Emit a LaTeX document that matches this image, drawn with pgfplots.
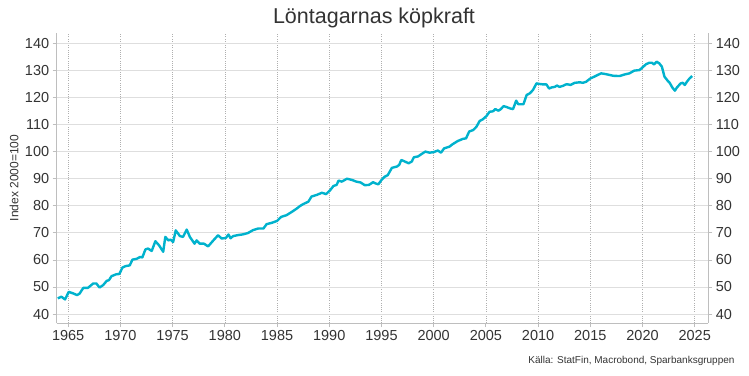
\documentclass[border=0pt]{standalone}
\usepackage{fontspec}
\setmainfont{Liberation Sans}
\usepackage{pgfplots}
\pgfplotsset{compat=1.18}
\definecolor{linec}{RGB}{0,178,205}
\definecolor{txt}{RGB}{51,51,51}
\definecolor{gridc}{RGB}{222,222,222}
\definecolor{axc}{RGB}{190,190,190}
\definecolor{vgrid}{RGB}{175,175,175}
\begin{document}
\begin{tikzpicture}[x=1pt,y=1pt]
\path[use as bounding box] (-56.7,-52) rectangle (692.3,323);
\pgfplotsset{common/.style={scale only axis, width=651.6pt, height=290pt,
  xmin=1963.9, xmax=2026.3, ymin=36.7, ymax=143.8, at={(0,0)}, anchor=south west,
  /pgf/number format/assume math mode=true, /pgf/number format/1000 sep={},
  tick label style={font=\fontsize{14.5}{16}\selectfont, text=txt},
  ytick={40,50,...,140}, xtick={1965,1970,...,2025},
  tick align=outside, major tick length=4pt,
  tick style={axc, line width=0.8pt}, axis line style={axc, line width=0.8pt, -}}}
\begin{axis}[common, axis x line*=bottom, axis y line*=left,
  xmajorgrids, ymajorgrids,
  x grid style={vgrid, line width=0.6pt, dash pattern=on 0.6pt off 1.6pt},
  y grid style={gridc, line width=0.8pt}]
\addplot[linec, line width=2.4pt, line join=round] coordinates {
(1964.0,45.8) (1964.35,46.4) (1964.7,45.4) (1965.05,48.2) (1965.5,47.6) (1965.85,47.0)
(1966.1,47.6) (1966.45,49.7) (1966.9,49.7) (1967.4,51.3) (1967.7,51.3) (1968.0,49.8)
(1968.35,50.7) (1968.7,52.3) (1968.9,52.5) (1969.15,54.0) (1969.6,54.7) (1969.9,54.8)
(1970.2,57.2) (1970.5,57.7) (1970.9,58.0) (1971.15,60.1) (1971.55,60.4) (1971.9,61.1)
(1972.1,60.9) (1972.4,63.9) (1972.65,64.2) (1973.0,63.3) (1973.35,66.9) (1973.7,65.4)
(1974.1,63.0) (1974.3,68.5) (1974.6,67.2) (1974.8,67.5) (1975.05,66.6) (1975.3,70.9)
(1975.7,68.8) (1976.0,68.5) (1976.35,71.2) (1976.65,68.5) (1977.1,66.0) (1977.3,67.2)
(1977.6,66.0) (1978.0,66.0) (1978.4,65.0) (1978.9,67.2) (1979.35,69.1) (1979.7,67.9)
(1980.1,68.1) (1980.35,69.4) (1980.55,68.0) (1980.8,68.8) (1981.3,69.2) (1981.7,69.4)
(1982.2,69.9) (1982.7,71.0) (1983.2,71.6) (1983.7,71.6) (1984.0,73.2) (1984.5,73.7)
(1985.0,74.4) (1985.4,75.9) (1985.9,76.5) (1986.4,77.7) (1986.9,79.0) (1987.2,79.9)
(1987.5,80.6) (1988.0,81.5) (1988.3,83.4) (1988.8,84.0) (1989.3,84.8) (1989.7,84.3)
(1990.1,85.8) (1990.4,87.3) (1990.7,87.7) (1990.9,89.3) (1991.2,88.9) (1991.7,90.0)
(1992.2,89.5) (1992.6,88.9) (1993.0,88.6) (1993.4,87.6) (1993.8,87.7) (1994.2,88.7)
(1994.4,88.3) (1994.7,87.9) (1995.0,89.5) (1995.3,90.7) (1995.6,91.3) (1996.0,94.0)
(1996.5,94.5) (1996.7,95.1) (1996.9,96.9) (1997.2,96.4) (1997.6,95.7) (1997.9,96.3)
(1998.1,97.9) (1998.5,98.2) (1998.8,99.0) (1999.2,100.0) (1999.6,99.6) (2000.0,99.8)
(2000.4,100.4) (2000.7,99.6) (2001.0,101.2) (2001.5,101.8) (2001.8,102.7) (2002.3,103.9)
(2002.8,104.7) (2003.1,104.9) (2003.4,107.4) (2003.8,108.0) (2004.1,109.2) (2004.4,111.3)
(2004.7,111.9) (2005.05,113.1) (2005.35,114.7) (2005.7,114.9) (2005.9,115.7) (2006.2,115.1)
(2006.4,115.6) (2006.7,116.8) (2006.95,116.5) (2007.35,115.9) (2007.6,115.7) (2007.9,118.8)
(2008.1,117.5) (2008.4,117.5) (2008.6,117.5) (2008.9,120.9) (2009.2,121.5) (2009.5,122.7)
(2009.85,125.2) (2010.1,125.0) (2010.5,124.8) (2010.8,124.8) (2011.05,123.3) (2011.3,123.7)
(2011.6,123.9) (2011.8,124.4) (2012.05,123.9) (2012.4,124.3) (2012.65,124.8) (2012.9,124.8)
(2013.1,124.6) (2013.5,125.4) (2014.0,125.6) (2014.3,125.4) (2014.6,125.8) (2015.0,127.0)
(2015.4,127.7) (2015.7,128.3) (2016.05,128.9) (2016.5,128.6) (2017.2,128.0) (2017.8,127.9)
(2018.3,128.5) (2018.75,128.9) (2019.2,129.9) (2019.7,130.1) (2020.0,131.1) (2020.35,132.3)
(2020.65,132.8) (2020.9,132.8) (2021.1,132.2) (2021.35,133.2) (2021.6,132.6) (2021.85,131.4)
(2022.1,127.7) (2022.4,126.2) (2022.6,125.4) (2022.85,123.7) (2023.1,122.5) (2023.3,123.7)
(2023.65,125.2) (2023.85,125.4) (2024.05,124.6) (2024.25,125.8) (2024.5,127.0) (2024.75,127.9)
};
\end{axis}
\begin{axis}[common, axis y line*=right, axis x line=none]
\end{axis}
\node[font=\fontsize{21.5}{24}\selectfont, text=txt] at (317.3,305) {Löntagarnas köpkraft};
\node[font=\fontsize{12}{14}\selectfont, text=txt, rotate=90] at (-42.7,145) {Index 2000=100};
\node[font=\fontsize{10}{12}\selectfont, text=txt, anchor=base east] at (681.3,-40) {Källa: StatFin, Macrobond, Sparbanksgruppen};
\end{tikzpicture}
\end{document}
